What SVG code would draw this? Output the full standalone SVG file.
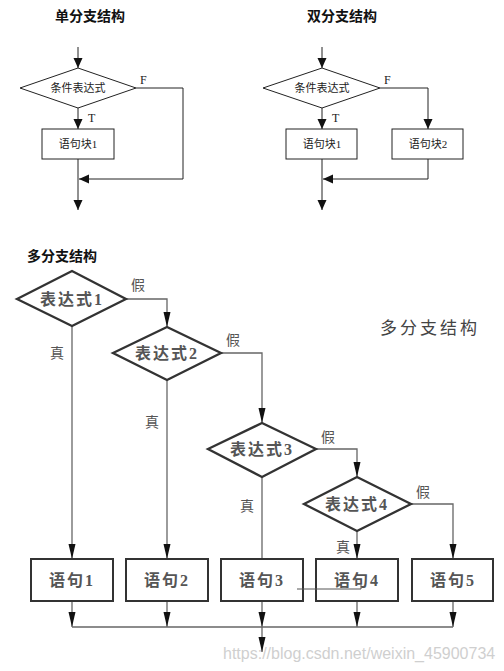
<svg xmlns="http://www.w3.org/2000/svg" width="504" height="671" viewBox="0 0 504 671">
<style>
.title{font-family:"Liberation Sans","Noto Sans CJK SC",sans-serif;font-size:14px;font-weight:600;fill:#111}
.t1{font-family:"Liberation Serif","Noto Sans CJK SC",serif;font-size:11px;fill:#222;text-anchor:middle}
.tl{font-family:"Liberation Serif",serif;font-size:12px;fill:#222}
.sh1{fill:#fff;stroke:#222;stroke-width:1}
.c1{fill:none;stroke:#222;stroke-width:1}
.dia{fill:#fff;stroke:#333;stroke-width:2.3}
.box{fill:#fff;stroke:#333;stroke-width:2}
.c2{fill:none;stroke:#666;stroke-width:1.3}
.t2{font-family:"Liberation Serif","Noto Sans CJK SC",serif;font-size:16px;font-weight:bold;fill:#555;text-anchor:middle;letter-spacing:2px}
.lb{font-family:"Liberation Serif","Noto Sans CJK SC",serif;font-size:14px;fill:#555;text-anchor:middle}
.big{font-family:"Noto Sans CJK SC",sans-serif;font-size:17px;fill:#444;letter-spacing:3px}
.wm{font-family:"Liberation Sans",Arial,sans-serif;font-size:16px;fill:#cfcfcf}
</style>
<defs>
<marker id="ah" markerUnits="userSpaceOnUse" markerWidth="11" markerHeight="10" refX="10" refY="4.5" orient="auto"><path d="M0,0 L10,4.5 L0,9 z" fill="#111"/></marker>
<marker id="ah2" markerUnits="userSpaceOnUse" markerWidth="16" markerHeight="8" refX="15" refY="3.5" orient="auto"><path d="M0,0 L15,3.5 L0,7 z" fill="#111"/></marker>
</defs>

<text class="title" x="55" y="21">单分支结构</text>
<text class="title" x="307" y="21">双分支结构</text>
<text class="title" x="27" y="261">多分支结构</text>
<text class="big" x="380" y="334">多分支结构</text>

<g id="connectors">
  <line class="c1" x1="78" y1="47" x2="78" y2="68" marker-end="url(#ah)"/>
  <line class="c1" x1="78" y1="108" x2="78" y2="129" marker-end="url(#ah)"/>
  <line class="c1" x1="78" y1="159" x2="78" y2="210" marker-end="url(#ah)"/>
  <path class="c1" d="M136,88 H183 V179 H79" marker-end="url(#ah)"/>

  <line class="c1" x1="322" y1="47" x2="322" y2="68" marker-end="url(#ah)"/>
  <line class="c1" x1="322" y1="108" x2="322" y2="129" marker-end="url(#ah)"/>
  <path class="c1" d="M380,88 H428 V129" marker-end="url(#ah)"/>
  <line class="c1" x1="322" y1="159" x2="322" y2="210" marker-end="url(#ah)"/>
  <path class="c1" d="M428,159 V179 H323" marker-end="url(#ah)"/>

  <path class="c2" d="M126,299 H167 V327" marker-end="url(#ah2)"/>
  <path class="c2" d="M221,353 H262 V423" marker-end="url(#ah2)"/>
  <path class="c2" d="M316,449 H357 V477" marker-end="url(#ah2)"/>
  <path class="c2" d="M411,504 H453 V559" marker-end="url(#ah2)"/>
  <line class="c2" x1="72" y1="326" x2="72" y2="559" marker-end="url(#ah2)"/>
  <line class="c2" x1="167" y1="380" x2="167" y2="559" marker-end="url(#ah2)"/>
  <line class="c2" x1="262" y1="477" x2="262" y2="559"/>
  <line class="c2" x1="357" y1="531" x2="357" y2="559" marker-end="url(#ah2)"/>
  <line class="c2" x1="72" y1="601" x2="72" y2="627" marker-end="url(#ah2)"/>
  <line class="c2" x1="167" y1="601" x2="167" y2="627" marker-end="url(#ah2)"/>
  <line class="c2" x1="262" y1="601" x2="262" y2="627" marker-end="url(#ah2)"/>
  <line class="c2" x1="357" y1="601" x2="357" y2="627" marker-end="url(#ah2)"/>
  <line class="c2" x1="453" y1="601" x2="453" y2="627" marker-end="url(#ah2)"/>
  <line class="c2" x1="72" y1="627" x2="453" y2="627"/>
  <line class="c2" x1="262" y1="627" x2="262" y2="652" marker-end="url(#ah2)"/>
</g>

<g id="s-cond"><polygon class="sh1" points="20,88 78,68 136,88 78,108"/><text class="t1" x="78" y="92">条件表达式</text></g>
<text class="tl" x="140" y="84">F</text>
<text class="tl" x="88" y="122">T</text>
<g id="s-block1"><rect class="sh1" x="42" y="129" width="72" height="30"/><text class="t1" x="78" y="148">语句块1</text></g>

<g id="d-cond"><polygon class="sh1" points="263,88 322,68 380,88 322,108"/><text class="t1" x="322" y="92">条件表达式</text></g>
<text class="tl" x="384" y="84">F</text>
<text class="tl" x="332" y="122">T</text>
<g id="d-block1"><rect class="sh1" x="286" y="129" width="71" height="30"/><text class="t1" x="322" y="148">语句块1</text></g>
<g id="d-block2"><rect class="sh1" x="392" y="129" width="71" height="30"/><text class="t1" x="428" y="148">语句块2</text></g>

<g id="m-expr1"><polygon class="dia" points="17,299 72,271 126,299 72,326"/><text class="t2" x="72" y="305">表达式1</text></g>
<g id="m-expr2"><polygon class="dia" points="113,353 167,327 221,353 167,380"/><text class="t2" x="167" y="359">表达式2</text></g>
<g id="m-expr3"><polygon class="dia" points="208,449 262,423 316,449 262,477"/><text class="t2" x="262" y="455">表达式3</text></g>
<g id="m-expr4"><polygon class="dia" points="304,504 357,477 411,504 357,531"/><text class="t2" x="357" y="510">表达式4</text></g>

<text class="lb" x="138" y="290">假</text>
<text class="lb" x="233" y="345">假</text>
<text class="lb" x="328" y="442">假</text>
<text class="lb" x="423" y="497">假</text>
<text class="lb" x="57" y="358">真</text>
<text class="lb" x="152" y="427">真</text>
<text class="lb" x="247" y="511">真</text>
<text class="lb" x="343" y="552">真</text>

<g id="m-stmt1"><rect class="box" x="31" y="559" width="82" height="42"/><text class="t2" x="72" y="586">语句1</text></g>
<g id="m-stmt2"><rect class="box" x="126" y="559" width="82" height="42"/><text class="t2" x="167" y="586">语句2</text></g>
<g id="m-stmt3"><rect class="box" x="221" y="559" width="82" height="42"/><text class="t2" x="262" y="586">语句3</text></g>
<g id="m-stmt4"><rect class="box" x="316" y="559" width="82" height="42"/><text class="t2" x="357" y="586">语句4</text></g>
<g id="m-stmt5"><rect class="box" x="412" y="559" width="81" height="42"/><text class="t2" x="453" y="586">语句5</text></g>
<path d="M297,589 H361 V585" fill="none" stroke="#555" stroke-width="1"/>

<text class="wm" x="223" y="659">https://blog.csdn.net/weixin_45900734</text>
</svg>
